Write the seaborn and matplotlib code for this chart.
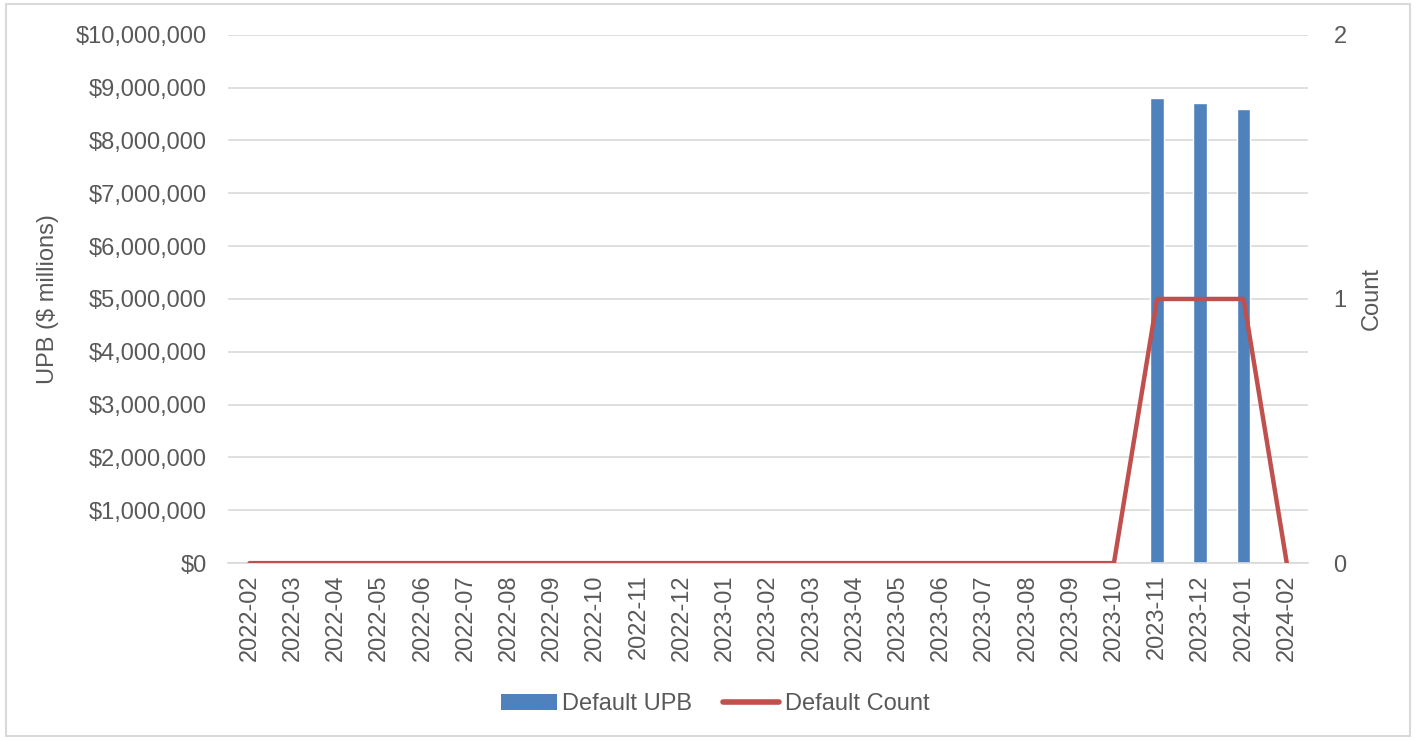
import numpy as np
import pandas as pd
import matplotlib
matplotlib.use("Agg")
import matplotlib.pyplot as plt
from matplotlib.patches import Rectangle
from matplotlib.ticker import FuncFormatter
from matplotlib.lines import Line2D
from matplotlib.patches import Patch
import seaborn as sns

months = [
    "2022-02", "2022-03", "2022-04", "2022-05", "2022-06", "2022-07",
    "2022-08", "2022-09", "2022-10", "2022-11", "2022-12", "2023-01",
    "2023-02", "2023-03", "2023-04", "2023-05", "2023-06", "2023-07",
    "2023-08", "2023-09", "2023-10", "2023-11", "2023-12", "2024-01",
    "2024-02",
]
default_upb = [0] * 21 + [8_800_000, 8_700_000, 8_600_000, 0]
default_count = [0] * 21 + [1, 1, 1, 0]

BAR_COLOR = "#4f81bd"
LINE_COLOR = "#c0504d"
TEXT_COLOR = "#595959"
GRID_COLOR = "#d9d9d9"

sns.set_theme(style="white")
plt.rcParams["font.family"] = ["Liberation Sans", "DejaVu Sans"]
plt.rcParams["font.size"] = 17

df = pd.DataFrame({"month": months, "upb": default_upb, "count": default_count})

fig = plt.figure(figsize=(14.16, 7.4), dpi=100)
ax = fig.add_axes([0.161, 0.239, 0.763, 0.714])

# bars: default UPB per month
sns.barplot(data=df, x="month", y="upb", color=BAR_COLOR, width=0.32,
            saturation=1, ax=ax)
ax.set_ylim(0, 10_000_000)
ax.set_yticks(np.arange(0, 10_000_001, 1_000_000))
ax.yaxis.set_major_formatter(FuncFormatter(lambda v, p: f"\\${v:,.0f}"))
ax.set_xlim(-0.5, len(months) - 0.5)
ax.grid(axis="y", color=GRID_COLOR, linewidth=1.2)
ax.set_axisbelow(True)
for side in ["top", "right", "left"]:
    ax.spines[side].set_visible(False)
ax.spines["bottom"].set_color(GRID_COLOR)
ax.spines["bottom"].set_linewidth(1.2)
ax.tick_params(axis="x", rotation=90, length=0, pad=8, colors=TEXT_COLOR, labelsize=17)
ax.tick_params(axis="y", length=0, pad=15, colors=TEXT_COLOR, labelsize=17)
ax.set_xlabel("")
ax.set_ylabel("UPB (\\$ millions)", color=TEXT_COLOR, fontsize=17, labelpad=12)

# line: default count on secondary axis
ax2 = ax.twinx()
sns.lineplot(x=np.arange(len(months)), y=default_count, color=LINE_COLOR,
             linewidth=3.2, ax=ax2)
ax2.set_ylim(0, 2)
ax2.set_yticks([0, 1, 2])
for side in ["top", "right", "left", "bottom"]:
    ax2.spines[side].set_visible(False)
ax2.tick_params(axis="y", length=0, pad=18, colors=TEXT_COLOR, labelsize=17)
ax2.set_ylabel("Count", color=TEXT_COLOR, fontsize=17, labelpad=10)
ax2.set_xlim(-0.5, len(months) - 0.5)

handles = [
    Patch(facecolor=BAR_COLOR, edgecolor="none"),
    Line2D([0], [0], color=LINE_COLOR, linewidth=4, solid_capstyle="round"),
]
fig.legend(handles, ["Default UPB", "Default Count"], loc="center",
           bbox_to_anchor=(0.505, 0.048), ncol=2, frameon=False,
           fontsize=17, labelcolor=TEXT_COLOR, handlelength=2.35,
           handletextpad=0.25, columnspacing=1.3)

fig.patches.append(Rectangle((0.004, 0.006), 0.992, 0.988, transform=fig.transFigure,
                             fill=False, edgecolor="#d9d9d9", linewidth=1.5))

fig.savefig("out.png", dpi=100)
